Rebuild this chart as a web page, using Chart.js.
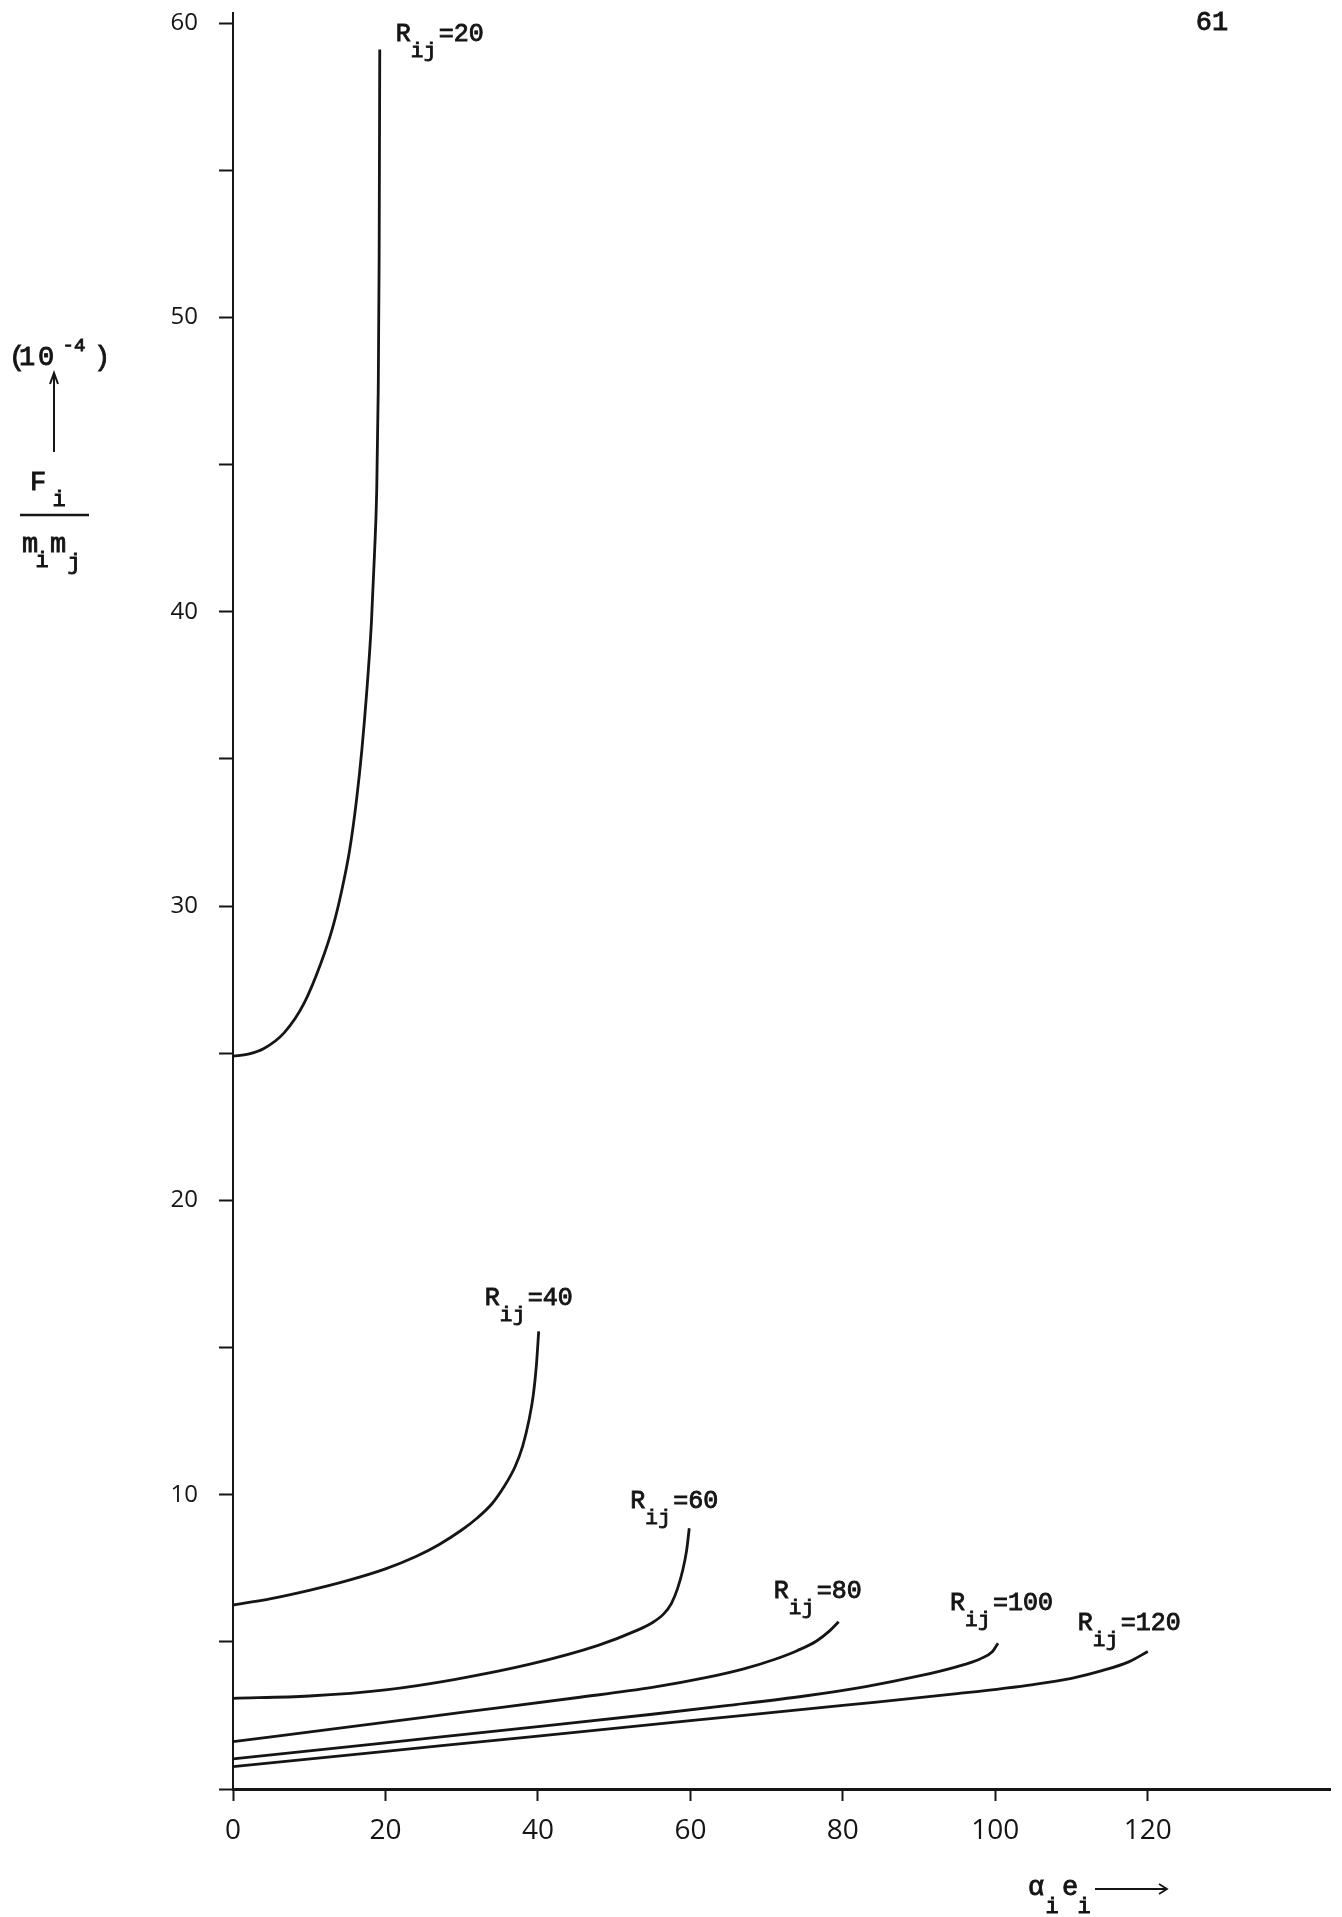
<!DOCTYPE html>
<html>
<head>
<meta charset="utf-8">
<title>F_i / m_i m_j versus α_i e_i</title>
<script src="https://cdn.jsdelivr.net/npm/chart.js@4.4.1/dist/chart.umd.min.js"></script>
<style>
  html, body { margin: 0; padding: 0; background: #ffffff; }
  #wrap { position: relative; width: 1342px; height: 1917px; }
  canvas { display: block; }
</style>
</head>
<body>
<div id="wrap"><canvas id="c" width="1342" height="1917"></canvas></div>
<script>
// ---------------- data ----------------
const seriesValues = [20, 40, 60, 80, 100, 120];   // R_ij of each curve

const r20x  = [0, 2, 4, 6.7, 9.35, 11.55, 13.1, 14.2, 15.3, 16.2, 16.9, 17.55, 18.15, 18.55, 18.85, 19.05, 19.17, 19.25];
const r20y  = [24.9, 24.97, 25.15, 25.69, 26.71, 28.07, 29.29, 30.45, 31.9, 33.6, 35.3, 37.3, 39.6, 41.9, 44.1, 47.5, 52.0, 59.1];

const r40x  = [0, 5, 10, 15, 20, 24, 27, 30, 32, 34, 35.5, 37, 38, 38.8, 39.4, 39.8, 40.1];
const r40y  = [6.25, 6.47, 6.75, 7.08, 7.48, 7.9, 8.3, 8.8, 9.2, 9.7, 10.25, 10.95, 11.65, 12.5, 13.4, 14.4, 15.55];

const r60x  = [0, 10, 20, 29, 39.1, 47.9, 52.9, 55, 56.5, 57.5, 58.3, 59.0, 59.5, 59.85];
const r60y  = [3.08, 3.16, 3.37, 3.72, 4.25, 4.88, 5.38, 5.65, 5.95, 6.3, 6.8, 7.44, 8.1, 8.86];

const r80x  = [0, 15, 30, 45, 55, 62, 67, 71, 74, 76.5, 78.3, 79.45];
const r80y  = [1.61, 2.1, 2.6, 3.1, 3.45, 3.78, 4.08, 4.4, 4.7, 5.02, 5.38, 5.68];

const r100x = [0, 20, 40, 55, 65, 75, 83, 90, 95, 98, 99.6, 100.35];
const r100y = [1.02, 1.57, 2.12, 2.54, 2.84, 3.16, 3.48, 3.84, 4.16, 4.42, 4.66, 4.95];

const r120x = [0, 20, 40, 60, 80, 95, 105, 110, 114, 117.5, 120];
const r120y = [0.76, 1.28, 1.8, 2.32, 2.84, 3.24, 3.55, 3.76, 4.02, 4.32, 4.67];

const xTickValues  = [0, 20, 40, 60, 80, 100, 120];
const yTickValues  = [0, 5, 10, 15, 20, 25, 30, 35, 40, 45, 50, 55, 60];
const yTickLabels  = ['', '', '10', '', '20', '', '30', '', '40', '', '50', '', '60'];
const pageNumber   = '61';

// ---------------- styling (not data) ----------------
const INK = '#151515';
const MONO = '"Liberation Mono", "Courier New", "DejaVu Sans Mono", monospace';
const SANS = '"Open Sans", "DejaVu Sans", sans-serif';
// label offsets (px) of the "R_ij=.." text relative to each curve's last point
const labelOffsets = [[16, -8], [-54, -26], [-59, -20], [-65, -24], [-48, -33], [-70, -22]];

const xs = [r20x, r40x, r60x, r80x, r100x, r120x];
const ys = [r20y, r40y, r60y, r80y, r100y, r120y];

const datasets = seriesValues.map((r, i) => ({
  label: 'R_ij=' + r,
  data: xs[i].map((x, k) => ({ x: x, y: ys[i][k] })),
  showLine: true,
  borderColor: INK,
  borderWidth: 2.8,
  pointRadius: 0,
  fill: false,
  cubicInterpolationMode: 'monotone'
}));

// typewriter-like text: regular glyph thickened by a thin stroke
function tw(ctx, text, x, y, size) {
  ctx.font = size + 'px ' + MONO;
  ctx.lineWidth = 0.9;
  ctx.fillText(text, x, y);
  ctx.strokeText(text, x, y);
}

const labelPlugin = {
  id: 'textAnnotations',
  afterDraw(chart) {
    const ctx = chart.ctx;
    const xS = chart.scales.x, yS = chart.scales.y;
    ctx.save();
    ctx.fillStyle = INK;
    ctx.strokeStyle = INK;
    ctx.textBaseline = 'alphabetic';
    ctx.textAlign = 'left';

    // curve labels R_ij=..
    seriesValues.forEach((r, i) => {
      const lx = xs[i][xs[i].length - 1], ly = ys[i][ys[i].length - 1];
      const px = xS.getPixelForValue(lx) + labelOffsets[i][0];
      const py = yS.getPixelForValue(ly) + labelOffsets[i][1];
      tw(ctx, 'R', px, py, 25);
      tw(ctx, 'i', px + 15, py + 16, 21);
      tw(ctx, 'j', px + 28, py + 16, 21);
      tw(ctx, '=' + r, px + 43, py, 25);
    });

    ctx.textAlign = 'center';
    // y-axis title: (10^-4)  arrow  F_i / m_i m_j
    tw(ctx, '(', 17, 365, 27);
    tw(ctx, '1', 27, 365, 27);
    tw(ctx, '0', 46, 365, 27);
    tw(ctx, ')', 102, 365, 27);
    tw(ctx, '-4', 74, 351, 19);

    ctx.lineWidth = 2;
    ctx.beginPath();
    ctx.moveTo(54, 452); ctx.lineTo(54, 374);
    ctx.stroke();
    ctx.beginPath();
    ctx.moveTo(50, 384); ctx.lineTo(54, 373); ctx.lineTo(58, 384);
    ctx.stroke();

    tw(ctx, 'F', 38, 490, 27);
    tw(ctx, 'i', 59, 506, 22);
    ctx.lineWidth = 2.4;
    ctx.beginPath();
    ctx.moveTo(20, 515); ctx.lineTo(89, 515);
    ctx.stroke();
    tw(ctx, 'm', 30, 552, 27);
    tw(ctx, 'm', 58, 552, 27);
    tw(ctx, 'i', 42, 567, 22);
    tw(ctx, 'j', 74, 569, 22);

    // x-axis title: α_i e_i ⟶
    tw(ctx, '\u03b1', 1036, 1895, 27);
    tw(ctx, 'e', 1070, 1895, 27);
    tw(ctx, 'i', 1052, 1913, 22);
    tw(ctx, 'i', 1084, 1913, 22);
    ctx.lineWidth = 1.8;
    ctx.beginPath();
    ctx.moveTo(1095, 1889); ctx.lineTo(1166, 1889);
    ctx.stroke();
    ctx.beginPath();
    ctx.moveTo(1159, 1884); ctx.lineTo(1167, 1889); ctx.lineTo(1159, 1894);
    ctx.stroke();

    // page number
    tw(ctx, pageNumber, 1212, 30, 27);
    ctx.restore();
  }
};

new Chart(document.getElementById('c'), {
  type: 'scatter',
  data: { datasets: datasets },
  options: {
    responsive: false,
    animation: false,
    devicePixelRatio: 1,
    layout: { padding: { left: 0, top: 13, right: 12, bottom: 0 } },
    plugins: { legend: { display: false }, tooltip: { enabled: false } },
    elements: { point: { radius: 0 } },
    scales: {
      x: {
        type: 'linear',
        min: 0,
        max: 143.9,
        afterBuildTicks: (s) => { s.ticks = xTickValues.map(v => ({ value: v })); },
        afterFit: (s) => { s.height = 128; s.paddingLeft = 0; s.paddingRight = 0; },
        grid: { drawOnChartArea: false, drawTicks: true, tickLength: 12, tickWidth: 2, tickColor: INK },
        border: { display: true, width: 3, color: INK },
        ticks: {
          autoSkip: false, maxRotation: 0, minRotation: 0,
          padding: 13, color: INK,
          font: { family: SANS, size: 28 },
          callback: (v) => String(v)
        }
      },
      y: {
        type: 'linear',
        min: 0,
        max: 60.34,
        afterBuildTicks: (s) => { s.ticks = yTickValues.map(v => ({ value: v })); },
        afterFit: (s) => { s.width = 233; s.paddingTop = 0; s.paddingBottom = 0; },
        grid: { drawOnChartArea: false, drawTicks: true, tickLength: 14, tickWidth: 2, tickColor: INK },
        border: { display: true, width: 2, color: INK },
        ticks: {
          autoSkip: false, padding: 21, color: INK,
          font: { family: SANS, size: 24 },
          callback: (v) => yTickLabels[yTickValues.indexOf(v)]
        }
      }
    }
  },
  plugins: [labelPlugin]
});
</script>
</body>
</html>
